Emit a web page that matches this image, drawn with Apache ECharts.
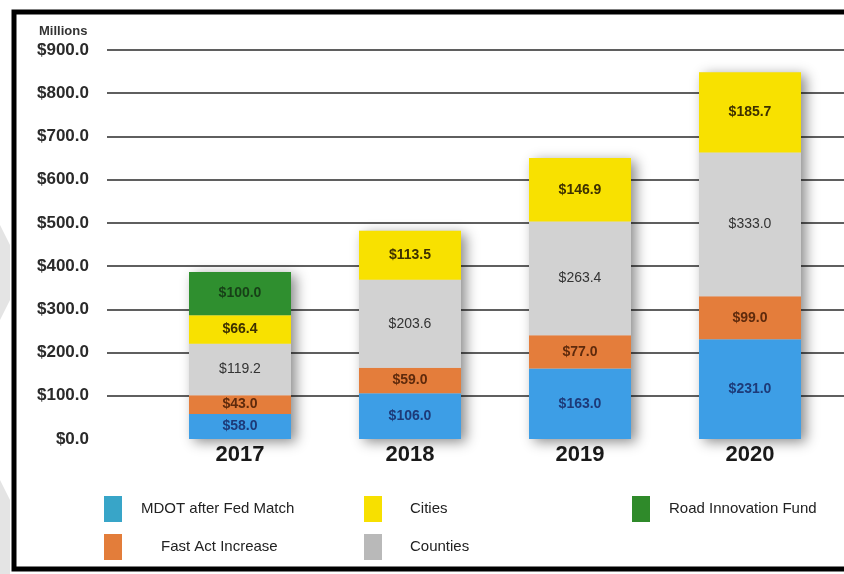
<!DOCTYPE html>
<html>
<head>
<meta charset="utf-8">
<script src="https://cdn.jsdelivr.net/npm/echarts@6/dist/echarts.min.js"></script>
<style>
    html, body { margin: 0; padding: 0; background: #fff; }
    #chart { width: 844px; height: 574px; }
</style>
</head>
<body>
<div id="chart"></div>
<script>
// data (millions of dollars)
const years = ['2017', '2018', '2019', '2020'];
const mdot = [58.0, 106.0, 163.0, 231.0];
const fastAct = [43.0, 59.0, 77.0, 99.0];
const counties = [119.2, 203.6, 263.4, 333.0];
const cities = [66.4, 113.5, 146.9, 185.7];
const roadFund = [100.0, '-', '-', '-'];

const totals = years.map((y, i) =>
    [mdot, fastAct, counties, cities, roadFund].reduce((s, arr) => s + (typeof arr[i] === 'number' ? arr[i] : 0), 0)
);

const font = 'Liberation Sans, Arial, sans-serif';
const money = p => '$' + Number(p.value).toFixed(1);

function seg(name, data, color, labelColor, bold) {
    return {
        name: name,
        type: 'bar',
        stack: 'total',
        xAxisIndex: 1,
        yAxisIndex: 1,
        barWidth: 102,
        barGap: '-100%',
        data: data,
        itemStyle: { color: color },
        label: {
            show: true,
            position: 'inside',
            formatter: money,
            color: labelColor,
            fontFamily: font,
            fontSize: 14,
            fontWeight: bold ? 'bold' : 'normal'
        },
        z: 3
    };
}

function legendItem(name, color, left, top, textPad) {
    return {
        data: [{ name: name, itemStyle: { color: color } }],
        left: left,
        top: top,
        orient: 'horizontal',
        icon: 'rect',
        itemWidth: 18,
        itemHeight: 26,
        itemGap: 0,
        selectedMode: false,
        textStyle: {
            fontFamily: font,
            fontSize: 15,
            color: '#222',
            padding: [0, 0, 0, textPad]
        }
    };
}

const chart = echarts.init(document.getElementById('chart'));
chart.setOption({
    animation: false,
    backgroundColor: '#fff',
    title: {
        text: 'Millions',
        left: 34,
        top: 20,
        textStyle: { fontFamily: font, fontSize: 13, fontWeight: 'bold', color: '#333' }
    },
    grid: [
        { left: 107, right: 0, top: 50, bottom: 135 },
        { left: 155, right: 9, top: 50, bottom: 135 }
    ],
    xAxis: [
        { type: 'category', gridIndex: 0, data: years, show: false },
        {
            type: 'category',
            gridIndex: 1,
            data: years,
            axisLine: { show: false },
            axisTick: { show: false },
            axisLabel: {
                margin: 5,
                fontFamily: font,
                fontSize: 22,
                fontWeight: 'bold',
                color: '#1a1a1a'
            }
        }
    ],
    yAxis: [
        {
            type: 'value',
            gridIndex: 0,
            min: 0,
            max: 900,
            interval: 100,
            axisLine: { show: false },
            axisTick: { show: false },
            splitLine: { showMinLine: false, lineStyle: { color: '#2a2a2a', width: 1.5 } },
            axisLabel: {
                margin: 18,
                formatter: v => '$' + v.toFixed(1),
                fontFamily: font,
                fontSize: 17,
                fontWeight: 'bold',
                color: '#2a2a2a',
                padding: [0, 0, 9, 0]
            }
        },
        { type: 'value', gridIndex: 1, min: 0, max: 900, interval: 100, show: false }
    ],
    legend: [
        legendItem('MDOT after Fed Match', '#38a5c8', 99, 491, 14),
        legendItem('Fast Act Increase', '#e37d3a', 99, 529, 34),
        legendItem('Cities', '#f7e000', 359, 491, 23),
        legendItem('Counties', '#b9b9b9', 359, 529, 23),
        legendItem('Road Innovation Fund', '#2f8a2a', 627, 491, 14)
    ],
    series: [
        {
            name: 'shadow',
            type: 'bar',
            xAxisIndex: 1,
            yAxisIndex: 1,
            barWidth: 102,
            barGap: '-100%',
            data: totals,
            silent: true,
            itemStyle: {
                color: '#ddd',
                shadowBlur: 12,
                shadowColor: 'rgba(0,0,0,0.45)',
                shadowOffsetX: 5,
                shadowOffsetY: 3
            },
            z: 2
        },
        seg('MDOT after Fed Match', mdot, '#3d9ee6', '#1d3a78', true),
        seg('Fast Act Increase', fastAct, '#e47d3b', '#5e2a0c', true),
        seg('Counties', counties, '#d2d2d2', '#333', false),
        seg('Cities', cities, '#f8e100', '#3d3000', true),
        seg('Road Innovation Fund', roadFund, '#2f8f2f', '#173f17', true)
    ],
    graphic: [
        {
            type: 'polygon',
            shape: { points: [[0, 225], [10, 245], [10, 300], [0, 320]] },
            style: { fill: '#e4e4e4' },
            z: 0
        },
        {
            type: 'polygon',
            shape: { points: [[0, 480], [10, 500], [10, 574], [0, 574]] },
            style: { fill: '#e4e4e4' },
            z: 0
        },
        {
            type: 'rect',
            shape: { x: 14, y: 12, width: 840, height: 557 },
            style: { fill: 'none', stroke: '#000', lineWidth: 5 },
            z: 10
        }
    ]
});
</script>
</body>
</html>
